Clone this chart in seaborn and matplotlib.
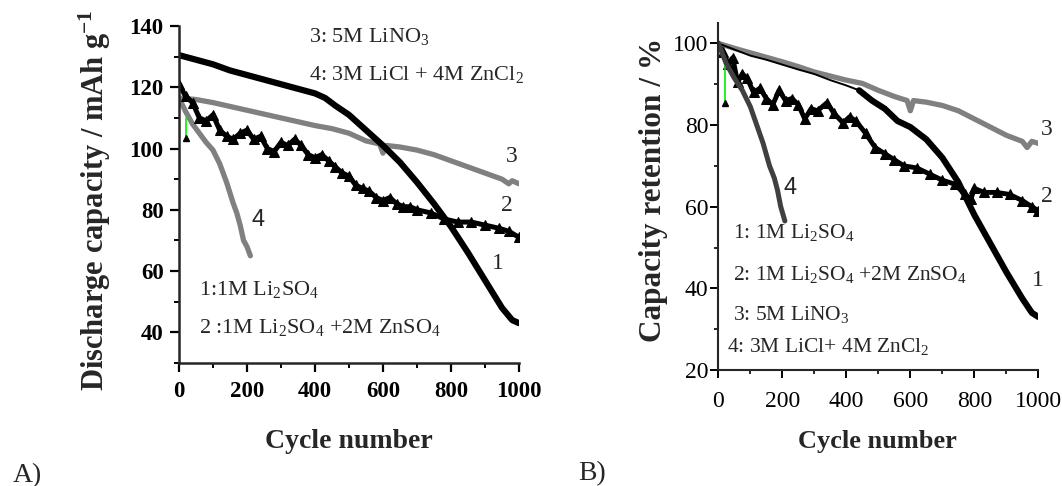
import numpy as np
import pandas as pd
import seaborn as sns
import matplotlib
matplotlib.use("Agg")
import matplotlib.pyplot as plt
from matplotlib.ticker import MultipleLocator

# ---- panel A: discharge capacity (mAh/g) ----
a1_cyc = [0, 50, 100, 150, 200, 250, 300, 350, 400, 430, 460, 500, 550, 600, 650, 700,
          750, 800, 850, 900, 950, 980, 1000]
a1_cap = [130.5, 129, 127.5, 125.5, 124, 122.5, 121, 119.5, 118, 116.5, 114, 111, 106, 101,
          95.5, 89, 82, 74.5, 66, 57, 48, 44, 43]

a2_cyc = [0, 20, 40, 60, 80, 100, 120, 140, 160, 180, 200, 220, 240, 260, 280, 300, 320,
          340, 360, 380, 400, 420, 440, 460, 480, 500, 520, 540, 560, 580, 600, 620, 640,
          660, 680, 700, 740, 780, 820, 860, 900, 940, 970, 1000]
a2_cap = [121, 117, 115, 110, 109, 111, 106, 104, 103, 105, 106, 103, 104, 100, 99, 102, 101,
          103, 101, 98, 97, 98, 96, 94, 92, 91, 88, 87, 86, 84, 83, 84, 82, 81, 81, 80, 79,
          77, 76, 76, 75, 74, 73, 71]

a3_cyc = [0, 50, 100, 200, 300, 400, 450, 500, 550, 590, 600, 610, 650, 700, 750, 800, 850,
          900, 950, 970, 980, 1000]
a3_cap = [116.5, 116, 115, 112.5, 110, 107.5, 106.5, 105, 102.5, 101.5, 98.5, 101, 100.5,
          99.5, 98, 96, 94, 92, 90, 88.5, 89.5, 88.5]

a4_cyc = [0, 20, 40, 60, 80, 100, 120, 140, 160, 170, 180, 190, 200, 210]
a4_cap = [116.5, 112, 108, 105, 102, 99.5, 95, 89, 82, 79, 75, 70, 68, 65]

a_err_cyc = [22, 22]
a_err_cap = [110, 103.5]

# ---- panel B: capacity retention (%) ----
b1_cyc = [0, 50, 100, 150, 200, 250, 300, 350, 400, 440, 480, 520, 560, 600, 650, 700,
          750, 800, 850, 900, 950, 980, 1000]
b1_ret = [100, 98.5, 97, 96, 94.8, 93.6, 92.5, 91, 89.7, 88.5, 86, 84, 81, 79.5, 76.5, 72,
          66, 58, 51, 44, 37.5, 34, 33]

b2_cyc = [0, 15, 30, 45, 60, 75, 90, 110, 130, 150, 170, 190, 210, 230, 250, 270, 290, 310,
          340, 360, 390, 410, 430, 460, 490, 520, 550, 580, 620, 660, 700, 740, 770, 790,
          800, 830, 870, 910, 950, 980, 1000]
b2_ret = [99.5, 98, 95, 96.5, 90.5, 92.5, 91.5, 88, 89, 86.5, 85, 88.5, 86, 86.5, 85, 81.5,
          84, 83.5, 85.5, 83, 80.5, 82, 81, 78, 74.5, 73, 71.5, 70, 69.5, 68, 66.5, 65.5,
          63, 62, 64.5, 63.5, 63.5, 63, 61.5, 60, 59]

b3_cyc = [0, 50, 100, 150, 200, 250, 300, 350, 400, 450, 500, 550, 590, 600, 610, 650, 700,
          750, 800, 850, 900, 950, 965, 980, 1000]
b3_ret = [100, 98.8, 97.7, 96.6, 95.5, 94.3, 93, 92, 91, 90.2, 88.5, 87, 86, 83.5, 86, 85.6,
          84.8, 83.5, 81.5, 79.5, 77.5, 76, 74.5, 76, 75.5]

b4_cyc = [0, 25, 50, 75, 100, 120, 140, 160, 175, 185, 195, 208]
b4_ret = [100, 95, 91.5, 88.5, 84.5, 80, 75.5, 70, 67, 64, 60, 56.5]

b_err_cyc = [20, 20]
b_err_ret = [94.3, 85.3]

sns.set_style("ticks")
plt.rcParams["font.family"] = ["Liberation Serif", "DejaVu Serif"]
plt.rcParams["mathtext.fontset"] = "custom"
plt.rcParams["mathtext.rm"] = "Liberation Serif"
plt.rcParams["mathtext.it"] = "Liberation Serif:italic"
plt.rcParams["mathtext.bf"] = "Liberation Serif:bold"

fig = plt.figure(figsize=(10.62, 4.86), dpi=100)
axA = fig.add_axes([0.1685, 0.2531, 0.3202, 0.6934])
axB = fig.add_axes([0.6764, 0.2387, 0.3013, 0.7140])

gray = "#808080"


def draw(ax, cyc, val, **kw):
    df = pd.DataFrame({"cycle": cyc, "value": val})
    sns.lineplot(data=df, x="cycle", y="value", ax=ax, sort=False, estimator=None, **kw)


# panel A curves
draw(axA, a3_cyc, a3_cap, color=gray, lw=3.8, solid_capstyle="round")
draw(axA, a4_cyc, a4_cap, color=gray, lw=3.8, solid_capstyle="round")
draw(axA, a2_cyc, a2_cap, color="black", lw=3.6, marker="^", ms=6.5, mec="black")
draw(axA, a1_cyc, a1_cap, color="black", lw=4.5)
axA.plot(a_err_cyc, a_err_cap, color="#00ee00", lw=1.2)
axA.plot(a_err_cyc[1:], a_err_cap[1:], marker="^", color="black", ms=4, ls="none")

# panel B curves
draw(axB, b3_cyc, b3_ret, color=gray, lw=3.8)
draw(axB, b1_cyc, b1_ret, color="black", lw=1.4)
b1_late = [(c, r) for c, r in zip(b1_cyc, b1_ret) if c >= 440]
draw(axB, [c for c, _ in b1_late], [r for _, r in b1_late], color="black", lw=4.5)
draw(axB, b2_cyc, b2_ret, color="black", lw=3.5, marker="^", ms=6.5, mec="black")
draw(axB, b4_cyc, b4_ret, color="#404040", lw=3.6)
axB.plot(b_err_cyc, b_err_ret, color="#00ee00", lw=1.2)
axB.plot(b_err_cyc[1:], b_err_ret[1:], marker="^", color="black", ms=4, ls="none")

# axes styling
for ax in (axA, axB):
    sns.despine(ax=ax)
    ax.set_xlim(0, 1000)
    ax.xaxis.set_major_locator(MultipleLocator(200))
    ax.xaxis.set_minor_locator(MultipleLocator(100))
    ax.yaxis.set_major_locator(MultipleLocator(20))
    ax.yaxis.set_minor_locator(MultipleLocator(10))
    ax.tick_params(which="both", direction="out", colors="black")

axA.set_ylim(30, 140)
axB.set_ylim(20, 105)

for sp in axA.spines.values():
    sp.set_linewidth(1.8)
for sp in axB.spines.values():
    sp.set_linewidth(1.5)

axA.tick_params(which="major", length=6.5, width=1.6, labelsize=16.5)
axA.tick_params(which="minor", length=3.6, width=1.4)
axA.tick_params(axis="x", pad=6.5)
axA.tick_params(axis="y", pad=4.5)
for lab in axA.get_xticklabels() + axA.get_yticklabels():
    lab.set_fontweight("bold")

axB.tick_params(which="major", length=6, width=1.4, labelsize=17)
axB.tick_params(which="minor", length=3, width=1.2)
axB.tick_params(axis="x", pad=9)
axB.tick_params(axis="y", pad=1)

axA.set_xlabel("Cycle number", fontsize=20, fontweight="bold", va="center")
axA.xaxis.set_label_coords(0.5, -0.234)
axA.set_ylabel(r"Discharge capacity / mAh g$^{\mathbf{-1}}$", fontsize=22,
               fontweight="bold", va="center")
axA.yaxis.set_label_coords(-0.247, 0.484)

axB.set_xlabel("Cycle number", fontsize=19, fontweight="bold", va="center")
axB.xaxis.set_label_coords(0.496, -0.205)
axB.set_ylabel("Capacity retention / %", fontsize=22.5, fontweight="bold", va="center")
axB.yaxis.set_label_coords(-0.204, 0.519)

# panel A annotations
axA.text(382, 134.9, r"3: 5M LiNO$_3$", fontsize=16, va="baseline")
axA.text(382, 122.4, r"4: 3M LiCl + 4M ZnCl$_2$", fontsize=16, va="baseline")
axA.text(59, 52.1, r"1:1M Li$_2$SO$_4$", fontsize=16, va="baseline")
axA.text(59, 39.7, r"2 :1M Li$_2$SO$_4$ +2M ZnSO$_4$", fontsize=16, va="baseline")
axA.text(233, 76.6, "4", fontsize=17, ha="center", va="center", family="Liberation Sans")
axA.text(978, 97.3, "3", fontsize=17, ha="center", va="center")
axA.text(964, 81.4, "2", fontsize=17, ha="center", va="center")
axA.text(938, 62.5, "1", fontsize=17, ha="center", va="center")

# panel B annotations
axB.text(46, 52.3, r"1: 1M Li$_2$SO$_4$", fontsize=15.5, va="baseline")
axB.text(46, 42.0, r"2: 1M Li$_2$SO$_4$ +2M ZnSO$_4$", fontsize=15.5, va="baseline")
axB.text(46, 32.2, r"3: 5M LiNO$_3$", fontsize=15.5, va="baseline")
axB.text(26, 24.4, r"4: 3M LiCl+ 4M ZnCl$_2$", fontsize=15.5, va="baseline")
axB.text(224, 64.5, "4", fontsize=17, ha="center", va="center", family="Liberation Sans")
axB.text(1026, 78.8, "3", fontsize=17, ha="center", va="center")
axB.text(1026, 62.4, "2", fontsize=17, ha="center", va="center")
axB.text(1000, 42.0, "1", fontsize=17, ha="center", va="center")

fig.text(13 / 1062, 1 - 482 / 486, "A)", fontsize=20, va="baseline")
fig.text(578 / 1062, 1 - 480 / 486, "B)", fontsize=20, va="baseline")

fig.savefig("out.png", dpi=100, facecolor="white")
